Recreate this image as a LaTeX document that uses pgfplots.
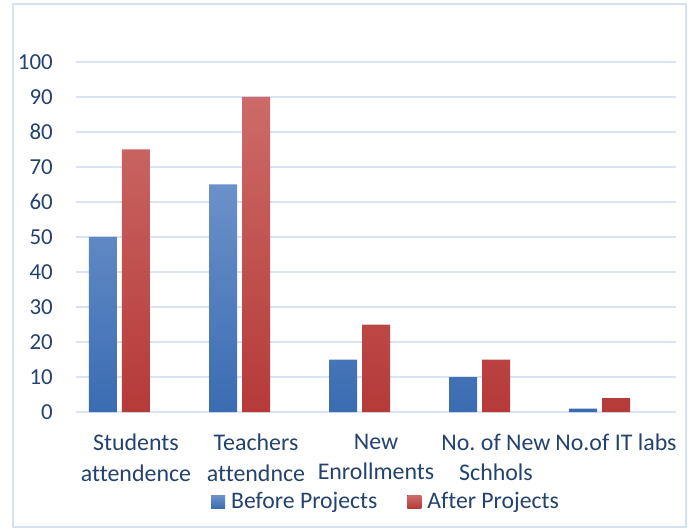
\documentclass[border=0pt]{standalone}
\usepackage{fontspec}
\setmainfont{Carlito}[Ligatures=NoCommon]
\usepackage{pgfplots}
\pgfplotsset{compat=1.18}
\frenchspacing
\definecolor{txt}{HTML}{24426E}
\definecolor{gridc}{HTML}{D9E3F3}
\definecolor{framec}{HTML}{D6E2F2}
\definecolor{bluetop}{HTML}{6B91C9}
\definecolor{bluebot}{HTML}{3A6CB2}
\definecolor{redtop}{HTML}{CC6B69}
\definecolor{redbot}{HTML}{B53A38}
\begin{document}
\fontsize{24}{29}\selectfont
\begin{tikzpicture}
\useasboundingbox (-76bp,-118bp) rectangle (612bp,412bp);
\draw[framec, line width=1.5bp] (-63bp,-115bp) rectangle (610bp,408bp);
\begin{axis}[
  at={(0,0)}, anchor=south west,
  scale only axis, width=600bp, height=350bp,
  xmin=-0.5, xmax=4.5, ymin=0, ymax=100,
  ytick={0,10,...,100}, xtick={0,1,2,3,4},
  xticklabels={{Students\\attendence},{Teachers\\attendnce},{New\\Enrollments},{No. of New\\Schhols},{No.of IT labs}},
  /pgf/number format/assume math mode=true,
  axis line style={draw=none},
  major tick length=0pt,
  ymajorgrids, grid style={gridc, line width=1.5bp},
  yticklabel style={font=\fontsize{23}{28}\selectfont, text=txt, inner sep=0pt, anchor=east, xshift=-23bp},
  xticklabel style={font=\fontsize{24}{30.5}\selectfont, text=txt, inner sep=0pt, anchor=north, align=center, yshift=-22bp},
  ybar, bar width=28bp,
  legend style={at={(0.515,-0.257)}, anchor=center, draw=none, fill=none,
    font=\fontsize{23.8}{28}\selectfont, text=txt, legend columns=2,
    nodes={inner sep=0bp},
    /tikz/every odd column/.append style={column sep=6bp},
    /tikz/every even column/.append style={column sep=30bp}},
  legend image code/.code={\fill[#1] (0bp,-6.5bp) rectangle (14bp,6.5bp);},
]
\addplot[bar shift=-33bp, draw=none, top color=bluetop, bottom color=bluebot]
  coordinates {(0,50) (1,65) (2,15) (3,10) (4,1)};
\addplot[bar shift=0bp, draw=none, top color=redtop, bottom color=redbot]
  coordinates {(0,75) (1,90) (2,25) (3,15) (4,4)};
\legend{Before Projects, After Projects}
\end{axis}
\end{tikzpicture}
\end{document}
